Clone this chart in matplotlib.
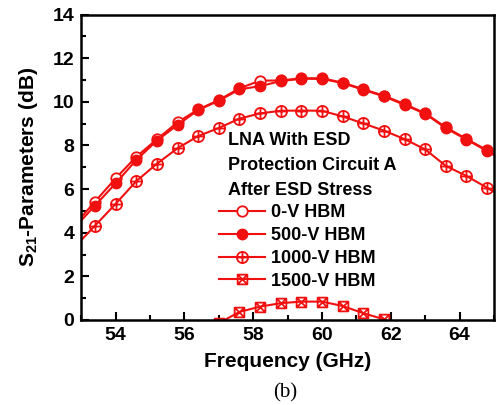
import numpy as np
import matplotlib
matplotlib.use("Agg")
import matplotlib.pyplot as plt
from matplotlib.path import Path

plt.rcParams['font.family'] = ['Liberation Sans', 'DejaVu Sans']
plt.rcParams['font.weight'] = 'bold'
plt.rcParams['mathtext.fontset'] = 'custom'
plt.rcParams['mathtext.rm'] = 'Liberation Sans'
plt.rcParams['mathtext.default'] = 'regular'

# frequency points (GHz)
freq = [52.8, 53.4, 54.0, 54.6, 55.2, 55.8, 56.4, 57.0, 57.6, 58.2, 58.8, 59.4,
        60.0, 60.6, 61.2, 61.8, 62.4, 63.0, 63.6, 64.2, 64.8, 65.4]

s21_0v = [4.35, 5.42, 6.49, 7.48, 8.28, 9.06, 9.65, 10.08, 10.62, 10.97, 10.98, 11.08,
          11.08, 10.88, 10.58, 10.28, 9.90, 9.48, 8.83, 8.30, 7.78, 7.22]
s21_500v = [4.22, 5.24, 6.26, 7.33, 8.22, 8.94, 9.62, 10.05, 10.57, 10.72, 10.95, 11.06,
            11.05, 10.86, 10.55, 10.25, 9.86, 9.45, 8.79, 8.27, 7.74, 7.18]
s21_1000v = [3.32, 4.32, 5.32, 6.36, 7.16, 7.87, 8.43, 8.80, 9.23, 9.47, 9.59, 9.60,
             9.59, 9.33, 9.01, 8.68, 8.29, 7.82, 7.06, 6.60, 6.06, 5.50]

freq_1500 = [56.4, 57.0, 57.6, 58.2, 58.8, 59.4, 60.0, 60.6, 61.2, 61.8, 62.4]
s21_1500v = [-0.9, -0.15, 0.37, 0.61, 0.77, 0.84, 0.84, 0.64, 0.31, 0.03, -0.45]

labels = ['0-V HBM', '500-V HBM', '1000-V HBM', '1500-V HBM']

# custom markers: circle with plus, square with cross
circ = Path.unit_circle()
oplus = Path.make_compound_path(circ,
                                Path([[-1, 0], [1, 0]], [Path.MOVETO, Path.LINETO]),
                                Path([[0, -1], [0, 1]], [Path.MOVETO, Path.LINETO]))
sq = Path([[-1, -1], [1, -1], [1, 1], [-1, 1], [-1, -1]],
          [Path.MOVETO, Path.LINETO, Path.LINETO, Path.LINETO, Path.CLOSEPOLY])
sqx = Path.make_compound_path(sq,
                              Path([[-1, -1], [1, 1]], [Path.MOVETO, Path.LINETO]),
                              Path([[-1, 1], [1, -1]], [Path.MOVETO, Path.LINETO]))

red = '#f01010'
fig = plt.figure(figsize=(4.98, 4.05), dpi=100)
ax = fig.add_axes([0.163, 0.210, 0.829, 0.754])

ax.plot(freq, s21_0v, color=red, lw=1.5, marker='o', ms=7.5, mfc='white', mec=red, mew=1.3, label=labels[0])
ax.plot(freq, s21_500v, color=red, lw=1.5, marker='o', ms=7.5, mfc=red, mec=red, label=labels[1])
ax.plot(freq, s21_1000v, color=red, lw=1.5, marker=oplus, ms=8, mfc='none', mec=red, mew=1.3, label=labels[2])
ax.plot(freq_1500, s21_1500v, color=red, lw=1.5, marker=sqx, ms=7, mfc='none', mec=red, mew=1.3, label=labels[3])

ax.set_xlim(53, 65)
ax.set_ylim(0, 14)
ax.set_xticks([54, 56, 58, 60, 62, 64])
ax.set_yticks([0, 2, 4, 6, 8, 10, 12, 14])
ax.set_xticks(np.arange(53, 66, 2), minor=True)
ax.set_yticks(np.arange(1, 14, 2), minor=True)
ax.tick_params(which='both', direction='in', width=1.5, labelsize=14, pad=5)
ax.tick_params(which='major', length=6)
ax.tick_params(which='minor', length=3.5)
for s in ax.spines.values():
    s.set_linewidth(1.8)

ax.set_xlabel('Frequency (GHz)', fontsize=15, fontweight='bold', labelpad=6)
ax.set_ylabel(r'S$_{21}$-Parameters (dB)', fontsize=15, fontweight='bold', labelpad=9)

ax.text(0.355, 0.617, 'LNA With ESD\nProtection Circuit A\nAfter ESD Stress',
        transform=ax.transAxes, fontsize=13, fontweight='bold',
        va='top', ha='left', linespacing=1.62)

ax.legend(loc='upper left', bbox_to_anchor=(0.335, 0.38), frameon=False,
          fontsize=13, handlelength=2.5, handletextpad=0.35,
          labelspacing=0.33, borderaxespad=0, borderpad=0)

fig.text(285 / 498, 1 - 393 / 405, '(b)', family='Liberation Serif', fontweight='normal',
         fontsize=15, ha='center', va='center')

fig.savefig('out.png', dpi=100)
